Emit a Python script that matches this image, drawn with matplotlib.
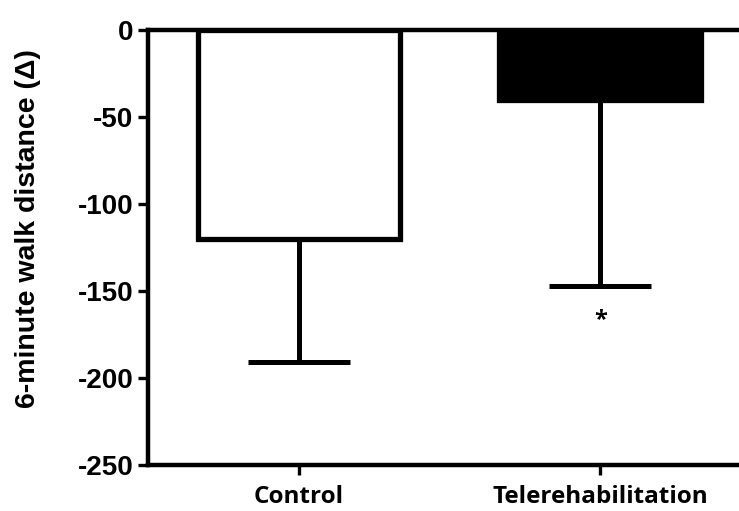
import matplotlib
matplotlib.use("Agg")
import matplotlib.pyplot as plt

# data
groups = ["Control", "Telerehabilitation"]
means = [-120, -40]
lower_err = [71, 107]
bar_colors = ["white", "black"]
sig_marks = ["", "*"]
sig_y = [None, -167]
yticks = [0, -50, -100, -150, -200, -250]

fig = plt.figure(figsize=(7.39, 5.11), dpi=100)
ax = fig.add_axes([148 / 739, 46 / 511, 603 / 739, 435 / 511])

x = list(range(len(groups)))
ax.bar(x, means, width=0.67, color=bar_colors, edgecolor="black",
       linewidth=3.8, zorder=3)
# only the lower half of the error bar is drawn, as in the original
ax.errorbar(x, means, yerr=[lower_err, [0] * len(x)], fmt="none",
            ecolor="black", elinewidth=3.6, capsize=37, capthick=3.6, zorder=2)

for xi, mark, yv in zip(x, sig_marks, sig_y):
    if mark:
        ax.text(xi, yv, mark, ha="center", va="center", fontsize=17,
                fontweight="bold", family="Open Sans")

ax.set_xlim(-0.5, 1.5)
ax.set_ylim(-250, 0)
ax.set_yticks(yticks)
ax.set_yticklabels([str(t) for t in yticks], fontsize=20, fontweight="bold",
                   family="Liberation Sans")
ax.set_xticks(x)
ax.set_xticklabels(groups, fontsize=17.5, fontweight="bold", family="Open Sans")

ax.tick_params(axis="y", direction="out", length=7.5, width=2.4, pad=3)
ax.tick_params(axis="x", direction="out", length=7.5, width=2.4, pad=7)

for side in ["left", "bottom", "top"]:
    ax.spines[side].set_linewidth(3.2)
ax.spines["right"].set_visible(False)

ax.set_ylabel("6-minute walk distance (Δ)", fontsize=20.5, fontweight="bold",
              family="Liberation Sans")
ax.yaxis.set_label_coords(-0.178, 0.5425)

fig.savefig("out.png", dpi=100)
